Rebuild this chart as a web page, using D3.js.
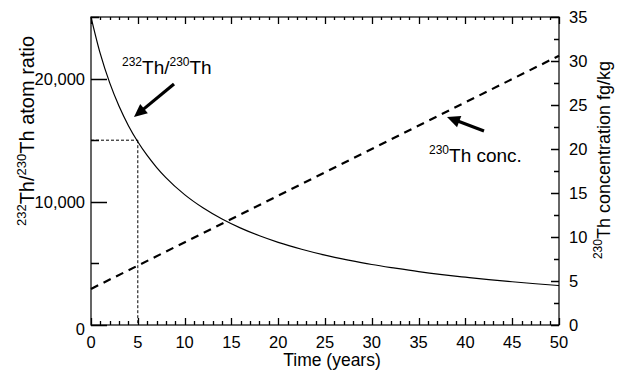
<!DOCTYPE html>
<html><head><meta charset="utf-8">
<script src="https://cdn.jsdelivr.net/npm/d3@7"></script>
<style>
body{margin:0;background:#fff;}
text{font-family:"Liberation Sans",Arial,sans-serif;fill:#000;}
</style></head><body>
<svg id="c" width="617" height="371"></svg>
<script>
// data
const years = [0,1,2,3,4,5,6,7,8,10,12,14,16,18,20,22.5,25,27.5,30,32.5,35,37.5,40,42.5,45,47.5,50];
const ratio = [25000,22000,19650,17750,16180,14870,13760,12800,11960,10580,9490,8600,7860,7240,6710,6150,5670,5270,4910,4610,4330,4090,3880,3680,3510,3350,3200];
const concYears = [0,50];
const conc = [4.1,30.6];
const guideYear = 5, guideRatio = 15000;
const xTickLabels = [0,5,10,15,20,25,30,35,40,45,50];
const leftTickLabels = [0,10000,20000];
const rightTickLabels = [0,5,10,15,20,25,30,35];

const svg = d3.select("#c");
const L=91,R=559,T=17,B=325;
const x = d3.scaleLinear().domain([0,50]).range([L,R]);
const yL = d3.scaleLinear().domain([0,25000]).range([B,T]);
const yR = d3.scaleLinear().domain([0,35]).range([B,T]);

// ticks as one path
const tp = d3.path();
function ticksH(vals, scale, y0, len){ vals.forEach(v=>{const px=Math.round(scale(v))+0.5; tp.moveTo(px,y0); tp.lineTo(px,y0+len);}); }
function ticksV(vals, scale, x0, len){ vals.forEach(v=>{const py=Math.round(scale(v))+0.5; tp.moveTo(x0,py); tp.lineTo(x0+len,py);}); }
const minorX = d3.range(0,51,1).filter(v=>v%5!==0);
ticksH(minorX, x, B, -4); ticksH(xTickLabels, x, B, -7);
ticksH(minorX, x, T, 3);  ticksH(xTickLabels, x, T, 7);
ticksV([5000,15000,25000], yL, L, 8); ticksV(leftTickLabels, yL, L, 16);
ticksV(d3.range(2.5,35,5), yR, R, -5); ticksV(rightTickLabels, yR, R, -8);
svg.append("path").attr("d",tp.toString()).attr("fill","none").attr("stroke","#000").attr("stroke-width",1.3);

// frame
svg.append("rect").attr("x",L).attr("y",T).attr("width",R-L).attr("height",B-T).attr("fill","none").attr("stroke","#000").attr("stroke-width",1.2);

// tick labels
const fmt = d3.format(",");
svg.selectAll(null).data(xTickLabels).join("text").attr("x",d=>x(d)).attr("y",348).attr("text-anchor","middle").style("font-size","16.5px").text(d=>d);
svg.selectAll(null).data(leftTickLabels).join("text").attr("x",L-6).attr("y",d=>yL(d)+6+(d===0?4:0)).attr("text-anchor","end").style("font-size","16.5px").text(d=>fmt(d));
svg.selectAll(null).data(rightTickLabels).join("text").attr("x",R+10).attr("y",d=>yR(d)+6).attr("text-anchor","start").style("font-size","16.5px").text(d=>d);

// guide lines
svg.append("line").attr("x1",x(0)).attr("x2",x(guideYear)).attr("y1",yL(guideRatio)).attr("y2",yL(guideRatio)).attr("stroke","#000").attr("stroke-width",1).attr("stroke-dasharray","3,2");
svg.append("line").attr("x1",x(guideYear)).attr("x2",x(guideYear)).attr("y1",yL(guideRatio)).attr("y2",yL(0)).attr("stroke","#000").attr("stroke-width",1).attr("stroke-dasharray","3,2");

// ratio curve
const pts = years.map((t,i)=>[t,ratio[i]]);
svg.append("path").datum(pts).attr("fill","none").attr("stroke","#000").attr("stroke-width",1.2)
  .attr("d",d3.line().x(d=>x(d[0])).y(d=>yL(d[1])).curve(d3.curveMonotoneX));
// conc line
const cpts = concYears.map((t,i)=>[t,conc[i]]);
svg.append("path").datum(cpts).attr("fill","none").attr("stroke","#000").attr("stroke-width",2.2).attr("stroke-dasharray","8,6")
  .attr("d",d3.line().x(d=>x(d[0])).y(d=>yR(d[1])));

// arrows
function arrow(x1,y1,x2,y2){
  const a=Math.atan2(y2-y1,x2-x1), hl=13, hw=6;
  const bx=x2-hl*Math.cos(a), by=y2-hl*Math.sin(a);
  svg.append("line").attr("x1",x1).attr("y1",y1).attr("x2",bx+3*Math.cos(a)).attr("y2",by+3*Math.sin(a)).attr("stroke","#000").attr("stroke-width",3.2);
  const px=-Math.sin(a), py=Math.cos(a);
  svg.append("path").attr("d",`M${x2},${y2}L${bx+hw*px},${by+hw*py}L${bx-hw*px},${by-hw*py}Z`).attr("fill","#000");
}
arrow(174,84,134,117);
arrow(484,131,447,117);

function supText(g,parts,size,supSize){
  const t=g.append("text").style("font-size",size+"px");
  parts.forEach(p=>{
    if(p.sup){t.append("tspan").text(p.s).style("font-size",supSize+"px").attr("dy",-8);}
    else{t.append("tspan").text(p.s).attr("dy",p.after?8:0);}
  });
  return t;
}
// annotation 1
supText(svg,[{s:"232",sup:1},{s:"Th/",after:1},{s:"230",sup:1},{s:"Th",after:1}],19,12).attr("x",122).attr("y",74);
// annotation 2
supText(svg,[{s:"230",sup:1},{s:"Th conc.",after:1}],19,12).attr("x",429).attr("y",162);

// axis titles
svg.append("text").attr("x",(L+R)/2+7).attr("y",366).attr("text-anchor","middle").style("font-size","17.5px").text("Time (years)");
supText(svg,[{s:"232",sup:1},{s:"Th/",after:1},{s:"230",sup:1},{s:"Th atom ratio",after:1}],20,13).attr("text-anchor","middle").attr("transform","translate(34,131) rotate(-90)");
supText(svg,[{s:"230",sup:1},{s:"Th concentration fg/kg",after:1}],18,12).attr("text-anchor","middle").attr("transform","translate(610,160) rotate(-90)");
</script></body></html>
